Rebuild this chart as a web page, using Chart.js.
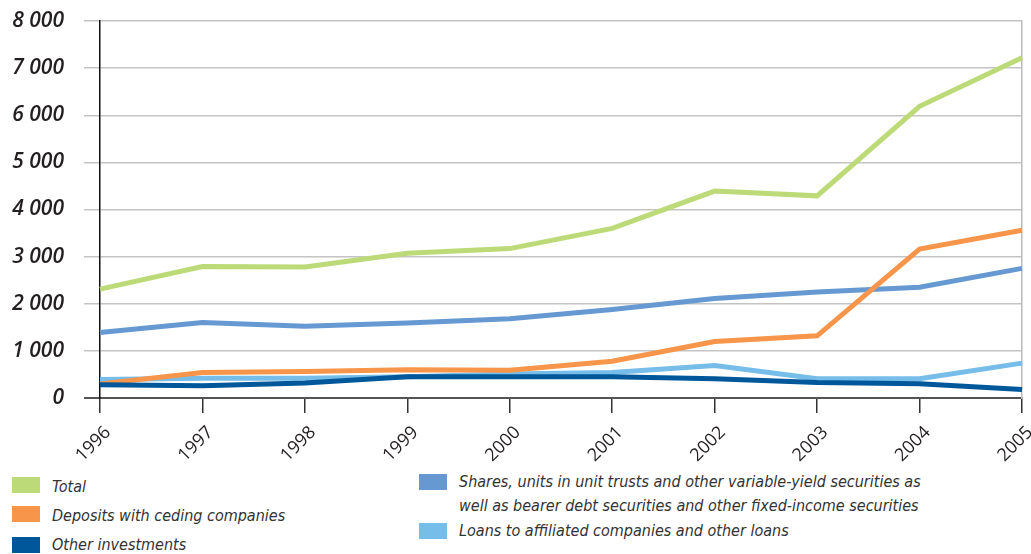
<!DOCTYPE html>
<html>
<head>
<meta charset="utf-8">
<script src="https://cdn.jsdelivr.net/npm/chart.js@4"></script>
<style>
  body { margin: 0; background: #fff; width: 1031px; height: 554px; overflow: hidden; position: relative; }
  #wrap { position: absolute; left: 0; top: 0; width: 1031px; height: 470px; }
  .key { position: absolute; font-family: "Liberation Sans Narrow", "DejaVu Sans Condensed", sans-serif;
         font-style: italic; font-size: 16px; line-height: 24px; color: #333; white-space: nowrap; }
  .key i { position: absolute; width: 28px; height: 16px; }
</style>
</head>
<body>
<div id="wrap"><canvas id="invChart"></canvas></div>
<div id="legend"></div>
<script>
const years = ["1996", "1997", "1998", "1999", "2000", "2001", "2002", "2003", "2004", "2005"];

const total = [2310, 2790, 2780, 3070, 3170, 3600, 4390, 4290, 6190, 7220];
const shares = [1390, 1600, 1520, 1590, 1680, 1880, 2110, 2250, 2350, 2750];
const deposits = [300, 540, 560, 600, 590, 780, 1200, 1320, 3160, 3560];
const loans = [390, 420, 420, 450, 510, 540, 690, 410, 410, 740];
const other = [280, 260, 320, 450, 450, 450, 410, 330, 300, 180];

const seriesNames = {
  total: "Total",
  deposits: "Deposits with ceding companies",
  other: "Other investments",
  shares: "Shares, units in unit trusts and other variable-yield securities as well as bearer debt securities and other fixed-income securities",
  loans: "Loans to affiliated companies and other loans"
};

const colors = {
  total: "#bcda78",
  deposits: "#f7964b",
  other: "#00589b",
  shares: "#6699d2",
  loans: "#76bde9"
};

function spaced(v) {
  return String(v).replace(/\B(?=(\d{3})+(?!\d))/g, " ");
}

function line(key, data) {
  return {
    label: seriesNames[key],
    data: data,
    borderColor: colors[key],
    backgroundColor: colors[key],
    borderWidth: 5,
    pointRadius: 0,
    tension: 0,
    fill: false
  };
}

// fixed plot box: no extra room reserved for tick labels
function noPad(s) {
  s.paddingTop = 0;
  s.paddingBottom = 0;
  s.paddingLeft = 0;
  s.paddingRight = 0;
}

// first dataset ends up on top
const ctx = document.getElementById("invChart").getContext("2d");
const chart = new Chart(ctx, {
  type: "line",
  data: {
    labels: years,
    datasets: [
      line("other", other),
      line("deposits", deposits),
      line("loans", loans),
      line("shares", shares),
      line("total", total)
    ]
  },
  options: {
    responsive: true,
    maintainAspectRatio: false,
    animation: false,
    layout: { autoPadding: false, padding: { top: 21, right: 9, left: 0, bottom: 0 } },
    plugins: { legend: { display: false }, tooltip: { enabled: false } },
    scales: {
      x: {
        offset: false,
        afterFit: (s) => { s.height = 72; noPad(s); },
        border: { display: true, color: "#555", width: 2 },
        grid: { drawOnChartArea: false, drawTicks: true, tickLength: 15, color: "#333", lineWidth: 1.5 },
        ticks: {
          color: "#231f20",
          font: { family: "Open Sans", size: 18 },
          minRotation: 45,
          maxRotation: 45,
          labelOffset: 8,
          padding: 9
        }
      },
      y: {
        min: 0,
        max: 8000,
        afterFit: (s) => { s.width = 100; noPad(s); },
        border: { display: true, color: "#111", width: 1.5 },
        grid: {
          color: (c) => (c.tick && c.tick.value === 0 ? "#555" : "#c4c4c4"),
          lineWidth: (c) => (c.tick && c.tick.value === 0 ? 2 : 1.5),
          tickLength: 16
        },
        ticks: {
          stepSize: 1000,
          padding: 20,
          color: "#231f20",
          font: { family: "Open Sans", size: 21, style: "italic", weight: "600" },
          callback: (v) => spaced(v)
        }
      },
      yRight: {
        position: "right",
        min: 0,
        max: 8000,
        afterFit: (s) => { s.width = 0; noPad(s); },
        border: { display: true, color: "#bbb", width: 1.5 },
        grid: { display: false },
        ticks: { display: false }
      }
    }
  }
});

// legend below the plot
const legendItems = [
  { key: "total", x: 12, y: 477, tx: 52, ty: 475 },
  { key: "deposits", x: 12, y: 506, tx: 52, ty: 504 },
  { key: "other", x: 12, y: 537, tx: 52, ty: 533 },
  { key: "shares", x: 419, y: 474, tx: 459, ty: 470 },
  { key: "loans", x: 419, y: 523, tx: 459, ty: 519 }
];
const legendEl = document.getElementById("legend");
legendItems.forEach((it) => {
  const sw = document.createElement("div");
  sw.className = "key";
  sw.style.left = it.x + "px";
  sw.style.top = it.y + "px";
  sw.innerHTML = '<i style="background:' + colors[it.key] + '"></i>';
  legendEl.appendChild(sw);

  const txt = document.createElement("div");
  txt.className = "key";
  txt.style.left = it.tx + "px";
  txt.style.top = it.ty + "px";
  if (it.key === "shares") {
    txt.innerHTML = "Shares, units in unit trusts and other variable-yield securities as<br>well as bearer debt securities and other fixed-income securities";
  } else {
    txt.textContent = seriesNames[it.key];
  }
  legendEl.appendChild(txt);
});
</script>
</body>
</html>
